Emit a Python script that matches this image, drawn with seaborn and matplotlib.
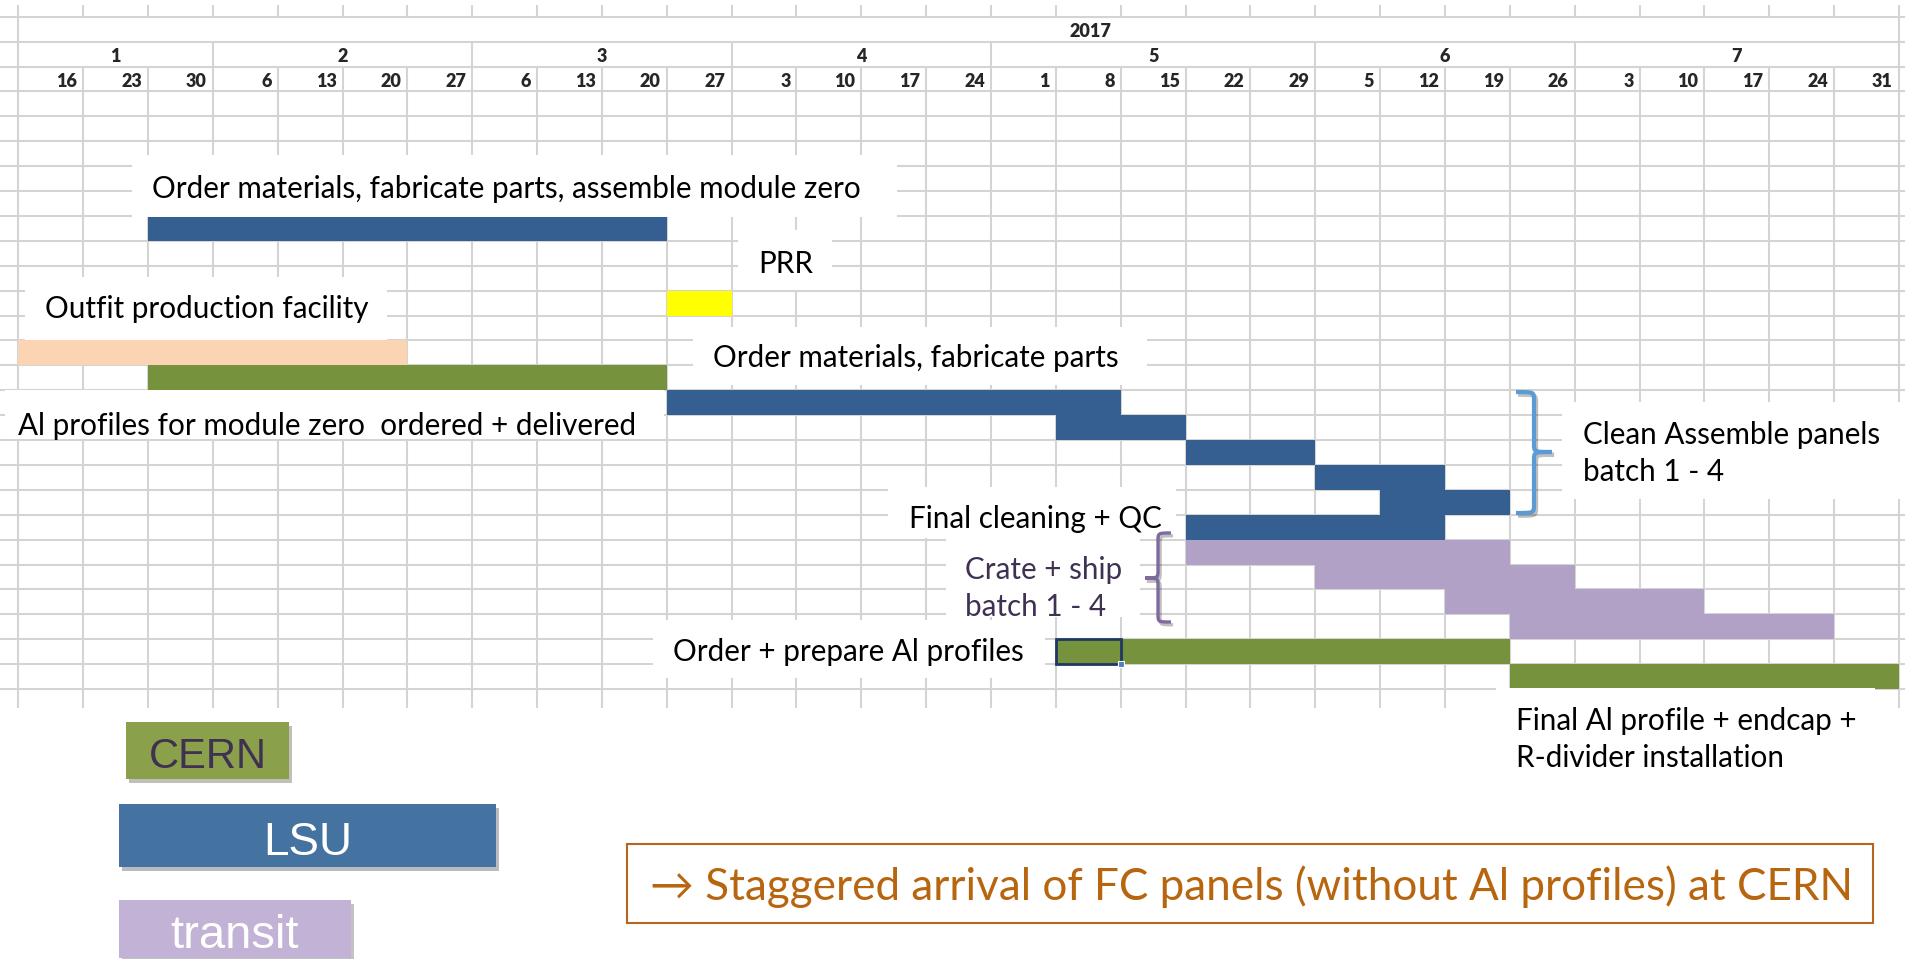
import numpy as np
import matplotlib
matplotlib.use('Agg')
import matplotlib.pyplot as plt
import matplotlib.patheffects as pe
from matplotlib.colors import ListedColormap
from matplotlib.patches import Rectangle, PathPatch
from matplotlib.path import Path
import seaborn as sns

# --- header of the sheet ---
year_label = '2017'
months = ['1', '2', '3', '4', '5', '6', '7']
month_start = [0, 3, 7, 11, 15, 20, 24]
month_end = [3, 7, 11, 15, 20, 24, 29]
week_days = [16, 23, 30, 6, 13, 20, 27, 6, 13, 20, 27, 3, 10, 17, 24,
             1, 8, 15, 22, 29, 5, 12, 19, 26, 3, 10, 17, 24, 31]

# --- tasks: sheet row, first week column, end column (exclusive), who ---
task_row = [8, 11, 13, 14, 15, 16, 17, 18, 19, 20, 21, 22, 23, 24, 25, 26]
task_start = [2, 10, 0, 2, 10, 16, 18, 20, 21, 18, 18, 20, 22, 23, 16, 23]
task_end = [10, 11, 6, 10, 17, 18, 20, 22, 23, 22, 23, 24, 26, 28, 23, 29]
task_who = ['LSU', 'PRR', 'facility', 'CERN', 'LSU', 'LSU', 'LSU', 'LSU',
            'LSU', 'LSU', 'transit', 'transit', 'transit', 'transit',
            'CERN', 'CERN']

groups = ['LSU', 'CERN', 'transit', 'facility', 'PRR']
group_colors = ['#365F91', '#76923C', '#B2A1C7', '#FBD4B4', '#FFFF00']
selected_cell = (25, 16)

legend_names = ['CERN', 'LSU', 'transit']
note = '\u2192 Staggered arrival of FC panels (without Al profiles) at CERN'

n_rows = 28
n_cols = len(week_days)
cells = np.full((n_rows, n_cols), np.nan)
for r, s, e, w in zip(task_row, task_start, task_end, task_who):
    cells[r, s:e] = groups.index(w)

# pixel -> sheet coordinates (week columns / rows)
CW, X0 = 64.85, 18.3
RH, Y0 = 24.9, 16.7


def px(x):
    return (x - X0) / CW


def py(y):
    return (y - Y0) / RH


sns.set_style('white')
plt.rcParams['font.family'] = ['Lato', 'DejaVu Sans']
TXT = 21.3
GRID = '#d4d4d4'

fig = plt.figure(figsize=(19.05, 9.59), dpi=100)
ax = fig.add_axes([0, 0, 1, 1])
sns.heatmap(cells, cmap=ListedColormap(group_colors), vmin=-0.5, vmax=4.5,
            cbar=False, xticklabels=False, yticklabels=False, linewidths=0, ax=ax)
ax.set_xlim(px(0), px(1905))
ax.set_ylim(py(959), py(0))
ax.axis('off')

# spreadsheet grid
ax.hlines(range(0, n_rows), px(0), px(1905), color=GRID, lw=1.5, zorder=0.5)
cols = np.arange(n_cols + 1)
ax.vlines(cols, py(5), 0, color=GRID, lw=1.5, zorder=0.5)
ax.vlines([0, n_cols], 0, 1, color=GRID, lw=1.5, zorder=0.5)
ax.vlines(month_start + [n_cols], 1, 2, color=GRID, lw=1.5, zorder=0.5)
ax.vlines(cols, 2, py(708), color=GRID, lw=1.5, zorder=0.5)

# header texts
hdr = dict(fontsize=13, fontweight='heavy', va='baseline', zorder=3)
ax.text(px(1090), py(37), year_label, ha='center', **hdr)
for m, s, e in zip(months, month_start, month_end):
    ax.text((s + e) / 2, py(62.3), m, ha='center', **hdr)
for i, d in enumerate(week_days):
    ax.text(i + 1 - 6 / CW, py(87.3), str(d), ha='right', **hdr)

# white label boxes
boxes = [(131.7, 155, 896.7, 216.7), (738, 230, 832, 290), (25, 276.7, 387, 340),
         (693, 326.7, 1147, 385), (5, 390, 664, 439), (888, 487, 1176, 538),
         (946, 538, 1140, 617), (653, 620, 1045, 678), (1562, 402, 1905, 499),
         (1496, 688, 1875, 800)]
for x0, y0, x1, y1 in boxes:
    ax.add_patch(Rectangle((px(x0), py(y0)), px(x1) - px(x0), py(y1) - py(y0),
                           fc='white', ec='none', zorder=2))

labels = [('Order materials, fabricate parts, assemble module zero', 151.7, 198, 'black'),
          ('PRR', 758.3, 273.3, 'black'),
          ('Outfit production facility', 44.6, 318.3, 'black'),
          ('Order materials, fabricate parts', 713, 367.5, 'black'),
          ('Al profiles for module zero  ordered + delivered', 18, 435, 'black'),
          ('Final cleaning + QC', 909, 528.3, 'black'),
          ('Crate + ship', 965, 579.3, '#3F3151'),
          ('batch 1 - 4', 965, 615.7, '#3F3151'),
          ('Order + prepare Al profiles', 673, 660.7, 'black'),
          ('Clean Assemble panels', 1583, 444, 'black'),
          ('batch 1 - 4', 1583, 480.7, 'black'),
          ('Final Al profile + endcap +', 1516.5, 730, 'black'),
          ('R-divider installation', 1516.5, 766.7, 'black')]
for s, x, y, c in labels:
    ax.text(px(x), py(y), s, fontsize=TXT, color=c, ha='left', va='baseline', zorder=3)


def brace(x_back, x_tip, y0, y1, ym, color, lw):
    xm = (x_back + x_tip) / 2
    r = 8
    pts = [(x_back, y0), (xm, y0), (xm, y0), (xm, y0 + r), (xm, ym - r),
           (xm, ym), (xm, ym), (x_tip, ym), (xm, ym), (xm, ym), (xm, ym + r),
           (xm, y1 - r), (xm, y1), (xm, y1), (x_back, y1)]
    codes = [Path.MOVETO, Path.CURVE4, Path.CURVE4, Path.CURVE4, Path.LINETO,
             Path.CURVE4, Path.CURVE4, Path.CURVE4, Path.CURVE4, Path.CURVE4,
             Path.CURVE4, Path.LINETO, Path.CURVE4, Path.CURVE4, Path.CURVE4]
    verts = [(px(a), py(b)) for a, b in pts]
    ax.add_patch(PathPatch(Path(verts, codes), fill=False, ec=color, lw=lw,
                           capstyle='butt', zorder=4,
                           path_effects=[pe.SimpleLineShadow(offset=(1.5, -2), alpha=0.25),
                                         pe.Normal()]))


brace(1516, 1552, 392, 513, 452, '#5B9BD5', 3.0)
brace(1171, 1145, 533, 622, 578, '#7F6A9F', 2.4)

# selected cell of the sheet
sr, sc = selected_cell
ax.add_patch(Rectangle((sc, sr), 1, 1, fill=False, ec='#1F3864', lw=2, zorder=4))
ax.plot(sc + 1, sr + 1, marker='s', ms=5, mfc='#4F81BD', mec='white', mew=0.8, zorder=5)

# legend boxes
leg_boxes = [(126, 722, 289, 779), (119, 804, 496, 867), (119, 900, 351, 958)]
leg_colors = ['#8AA04B', '#4573A1', '#C2B2D5']
leg_text = ['#3F3151', 'white', 'white']
leg_size = [30, 33, 34]
leg_base = [768.3, 855, 948]
for name, (x0, y0, x1, y1), fc, tc, fs, yb in zip(legend_names, leg_boxes, leg_colors,
                                                  leg_text, leg_size, leg_base):
    ax.add_patch(Rectangle((px(x0), py(y0)), px(x1) - px(x0), py(y1) - py(y0),
                           fc=fc, ec='none', zorder=3,
                           path_effects=[pe.withSimplePatchShadow(offset=(2, -3), alpha=0.3)]))
    ax.text(px((x0 + x1) / 2), py(yb), name, ha='center', va='baseline', color=tc,
            fontsize=fs, family=['Liberation Sans', 'DejaVu Sans'], zorder=4)

# conclusion box
ax.add_patch(Rectangle((px(627), py(844)), px(1873) - px(627), py(923) - py(844),
                       fc='white', ec='#B5651D', lw=1.5, zorder=3))
ax.text(px(650), py(900), note, color='#B8650F', fontsize=31.7, ha='left',
        va='baseline', zorder=4)

fig.savefig('out.png', dpi=100)
